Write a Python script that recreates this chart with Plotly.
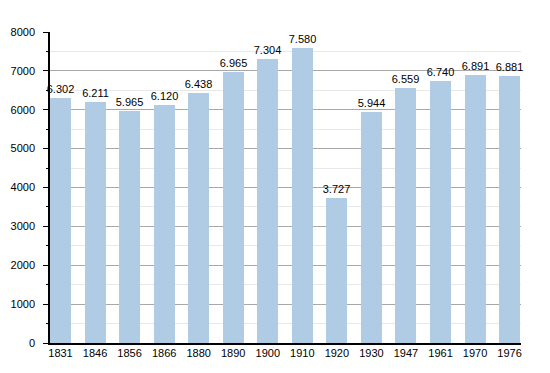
import plotly.graph_objects as go

years = ["1831", "1846", "1856", "1866", "1880", "1890", "1900", "1910", "1920", "1930", "1947", "1961", "1970", "1976"]
population = [6302, 6211, 5965, 6120, 6438, 6965, 7304, 7580, 3727, 5944, 6559, 6740, 6891, 6881]
y_ticks = [0, 1000, 2000, 3000, 4000, 5000, 6000, 7000, 8000]

labels = [f"{v:,}".replace(",", ".") for v in population]
xpos = list(range(len(years)))

fig = go.Figure()
fig.add_trace(go.Bar(
    x=xpos, y=population, width=0.608,
    marker=dict(color="#b0cbe4", line=dict(width=0)),
    text=labels, textposition="outside", cliponaxis=False, constraintext="none",
    textfont=dict(family="Liberation Sans, Arial, sans-serif", size=11, color="#000000"),
))
fig.update_layout(
    width=542, height=365,
    margin=dict(l=42, r=29, t=24, b=30, autoexpand=False),
    paper_bgcolor="white", plot_bgcolor="white",
    showlegend=False, bargap=0,
    font=dict(family="Liberation Sans, Arial, sans-serif", size=11, color="#000000"),
)
fig.update_xaxes(
    range=[-0.304, 13.33], tickmode="array", tickvals=xpos, ticktext=years,
    showline=True, linecolor="#000000", linewidth=1.5, ticks="", showgrid=False,
    zeroline=False, fixedrange=True, ticklabelstandoff=-1, automargin=False,
)
fig.update_yaxes(
    range=[0, 8000], tickmode="array", tickvals=y_ticks,
    showline=True, linecolor="#000000", linewidth=1.5,
    ticks="outside", ticklen=5, tickcolor="#000000", tickwidth=1,
    showgrid=True, gridcolor="#a8a8a8", gridwidth=1,
    minor=dict(dtick=500, showgrid=True, gridcolor="#e8e8e8", ticks="outside", ticklen=2, tickcolor="#000000"),
    zeroline=False, ticklabelstandoff=6, automargin=False,
)
fig.write_html("out.html")
